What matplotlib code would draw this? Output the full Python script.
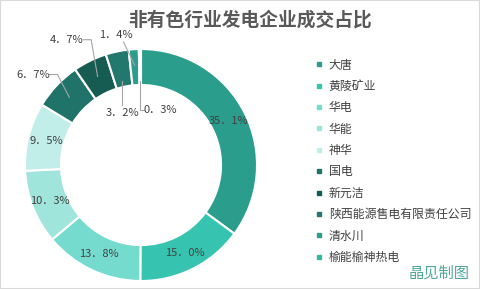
import matplotlib
matplotlib.use("Agg")
import numpy as np
import matplotlib.pyplot as plt
from matplotlib.lines import Line2D
from matplotlib.patches import Rectangle

plt.rcParams['font.family'] = ['Noto Sans CJK SC', 'DejaVu Sans']

# data
companies = ['大唐', '黄陵矿业', '华电', '华能', '神华', '国电', '新元洁',
             '陕西能源售电有限责任公司', '清水川', '榆能榆神热电']
shares = [35.1, 15.0, 13.8, 10.3, 9.5, 6.7, 4.7, 3.2, 1.4, 0.3]
colors = ['#2a9d8c', '#36c4b1', '#76dbcf', '#9fe5dc', '#c1eee9',
          '#1f7368', '#175c53', '#22786c', '#2a9d8c', '#37b5a3']

fig = plt.figure(figsize=(4.8, 2.89), dpi=100)
fig.patches.append(Rectangle((0, 0), 1, 1, transform=fig.transFigure,
                             fill=False, edgecolor='#d9d9d9', lw=1.5))

# square axes, radius 1 -> 116 px, centre at (141, 165) px from top-left
side = 320
ax = fig.add_axes([(141 - side / 2) / 480, (289 - 165 - side / 2) / 289,
                   side / 480, side / 289])
ax.axis('off')

wedges, _ = ax.pie(shares, colors=colors, startangle=90, counterclock=False,
                   radius=1.0, wedgeprops=dict(width=0.31, edgecolor='white', linewidth=1.5))
lim = side / 2 / 116
ax.set_xlim(-lim, lim)
ax.set_ylim(-lim, lim)

def fmt(v):
    return f"{v:.1f}%".replace('.', '．')

txt_kw = dict(fontsize=8, color='#404040', ha='center', va='center')
for w, v in zip(wedges[:5], shares[:5]):
    a = np.deg2rad((w.theta1 + w.theta2) / 2)
    ax.text(0.845 * np.cos(a), 0.845 * np.sin(a), fmt(v), **txt_kw)

# outside labels with leader lines: (label centre, line end radius)
outer = {5: ((-0.93, 0.78), 0.85),
         6: ((-0.64, 1.08), 0.85)}
for i, (pos, rr) in outer.items():
    w = wedges[i]
    a = np.deg2rad((w.theta1 + w.theta2) / 2)
    ax.text(pos[0], pos[1], fmt(shares[i]), **txt_kw)
    x0 = pos[0] + 0.14
    ax.plot([x0, x0 + 0.07, rr * np.cos(a)], [pos[1], pos[1], rr * np.sin(a)],
            color='#a6a6a6', lw=0.8)

# 1.4% label: straight diagonal leader
w = wedges[8]
a = np.deg2rad((w.theta1 + w.theta2) / 2)
ax.text(-0.22, 1.12, fmt(shares[8]), **txt_kw)
ax.plot([-0.15, 0.86 * np.cos(a)], [1.06, 0.86 * np.sin(a)], color='#a6a6a6', lw=0.8)

# labels inside the hole
ax.text(-0.16, 0.45, fmt(shares[7]), **txt_kw)
ax.plot([-0.165, -0.165], [0.52, 0.72], color='#a6a6a6', lw=0.8)
ax.text(0.17, 0.47, fmt(shares[9]), **txt_kw)
ax.plot([0.03, -0.01, -0.01], [0.47, 0.47, 0.72], color='#a6a6a6', lw=0.8)

fig.text(0.52, 0.93, '非有色行业发电企业成交占比', fontsize=13.5, fontweight='bold',
         color='#595959', ha='center', va='center')

handles = [Line2D([], [], marker='s', ls='', color=c, markersize=2.5) for c in colors]
fig.legend(handles, companies, loc='upper left', bbox_to_anchor=(0.645, 0.818),
           frameon=False, fontsize=8.6, labelcolor='#404040', handlelength=0.6,
           handletextpad=0.5, labelspacing=0.7, borderpad=0)

fig.text(0.978, 0.055, '晶见制图', fontsize=11, color='#4fa89a', ha='right', va='center')

fig.savefig('out.png', dpi=100)
